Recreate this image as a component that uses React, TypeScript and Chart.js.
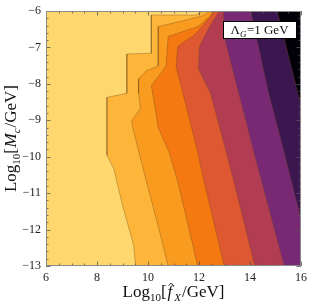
import React, { useEffect, useRef } from 'react';
import { Chart, registerables } from 'chart.js';

Chart.register(...registerables);

// Axis ranges and ticks (log10 values)
const xRange = [6, 16];
const yRange = [-13, -6];
const xTicks = [6, 8, 10, 12, 14, 16];
const yTicks = [-6, -7, -8, -9, -10, -11, -12, -13];
const xMinorStep = 0.5;
const yMinorStep = 0.2;

// Colour of lowest contour level (background) and of each higher level
const baseColor = '#FED86E';
const bandColors = ['#FDB639', '#F99B1E', '#F57911', '#DE5931', '#B23D53', '#792973', '#3C164F', '#020107'];

// Contour boundaries [log10 fX, log10 Mc], top to bottom
const b1 = [[12.18, -6], [11.87, -6.11], [10.13, -6.11], [10.13, -7.16], [9.17, -7.18], [9.17, -8.26], [8.39, -8.37], [8.39, -9.96], [8.66, -10.33], [8.78, -10.69], [9.01, -11.36], [9.44, -12.44], [9.51, -13]];
const b2 = [[12.45, -6], [12.14, -6.13], [11.37, -6.27], [10.4, -6.43], [10.4, -7.51], [9.94, -7.64], [9.63, -7.86], [9.63, -8.26], [9.71, -8.67], [9.36, -9.02], [9.4, -9.2], [9.94, -10.69], [10.4, -11.9], [10.79, -13]];
const b3 = [[12.56, -6], [12.41, -6.16], [11.95, -6.43], [10.79, -6.7], [10.71, -7.51], [10.13, -8.05], [10.25, -8.53], [10.4, -9.2], [10.83, -9.88], [11.17, -10.69], [11.95, -13]];
const b4 = [[12.64, -6], [12.45, -6.16], [11.83, -6.65], [11.17, -6.97], [11.1, -7.53], [11.37, -8.26], [11.95, -9.88], [12.18, -10.63], [12.99, -13]];
const b5 = [[12.8, -6], [12.41, -6.43], [12.02, -6.97], [11.98, -7.59], [12.45, -8.26], [13.07, -9.88], [13.37, -10.69], [14.19, -13]];
const b6 = [[12.95, -6], [13.03, -6.81], [14.15, -9.88], [15.34, -13]];
const b7 = [[14.03, -6], [14.73, -8.26], [15.34, -9.88], [15.61, -10.63], [16.46, -13]];
const b8 = [[15.07, -6], [15.88, -8.26], [16.3, -9.4]];
const boundaries = [b1, b2, b3, b4, b5, b6, b7, b8];

const SERIF = "'Liberation Serif', 'DejaVu Serif', serif";

type Run = { t: string; size: number; italic?: boolean; dy?: number; hat?: boolean; gap?: number };

function runsWidth(ctx: CanvasRenderingContext2D, runs: Run[]) {
  let w = 0;
  for (const r of runs) {
    ctx.font = `${r.italic ? 'italic ' : ''}${r.size}px ${SERIF}`;
    w += ctx.measureText(r.t).width + (r.gap || 0);
  }
  return w;
}

function drawRuns(ctx: CanvasRenderingContext2D, runs: Run[], x: number, y: number) {
  let cx = x;
  for (const r of runs) {
    ctx.font = `${r.italic ? 'italic ' : ''}${r.size}px ${SERIF}`;
    ctx.fillText(r.t, cx, y + (r.dy || 0));
    const w = ctx.measureText(r.t).width;
    if (r.hat) {
      const hx = cx + w * 0.75;
      const hy = y - r.size * 0.78;
      ctx.save();
      ctx.strokeStyle = ctx.fillStyle as string;
      ctx.lineWidth = 0.9;
      ctx.beginPath();
      ctx.moveTo(hx - 2.6, hy + 1.8);
      ctx.lineTo(hx, hy - 0.6);
      ctx.lineTo(hx + 2.6, hy + 1.8);
      ctx.stroke();
      ctx.restore();
    }
    cx += w + (r.gap || 0);
  }
}

const xTitle: Run[] = [
  { t: 'Log', size: 17 },
  { t: '10', size: 11, dy: 4 },
  { t: '[', size: 17, gap: 1 },
  { t: 'f', size: 17, italic: true, hat: true, gap: 2 },
  { t: 'X', size: 11, italic: true, dy: 4, gap: 1 },
  { t: '/GeV]', size: 17 },
];
const yTitle: Run[] = [
  { t: 'Log', size: 17 },
  { t: '10', size: 11, dy: 4 },
  { t: '[', size: 17, gap: 0.5 },
  { t: 'M', size: 17, italic: true },
  { t: 'c', size: 11, italic: true, dy: 4, gap: 1 },
  { t: '/GeV]', size: 17 },
];
const legendRuns: Run[] = [
  { t: '\u039B', size: 13 },
  { t: 'G', size: 9, italic: true, dy: 3, gap: 0.5 },
  { t: '=1 GeV', size: 13 },
];

const decorPlugin = {
  id: 'decor',
  beforeDatasetsDraw(chart: any) {
    const { ctx, chartArea: a } = chart;
    ctx.save();
    ctx.fillStyle = baseColor;
    ctx.fillRect(a.left, a.top, a.right - a.left, a.bottom - a.top);
    ctx.restore();
  },
  afterDatasetsDraw(chart: any) {
    const { ctx, chartArea: a } = chart;
    const xs = chart.scales.x;
    const ys = chart.scales.y;
    ctx.save();
    // ticks (inward, on all four sides)
    ctx.strokeStyle = '#555';
    ctx.lineWidth = 0.8;
    ctx.beginPath();
    for (let v = xRange[0]; v <= xRange[1] + 1e-9; v += xMinorStep) {
      const major = xTicks.some((t) => Math.abs(t - v) < 1e-6);
      const L = major ? 4.5 : 2.5;
      const px = Math.round(xs.getPixelForValue(v)) + 0.5;
      ctx.moveTo(px, a.bottom); ctx.lineTo(px, a.bottom - L);
      ctx.moveTo(px, a.top); ctx.lineTo(px, a.top + L);
    }
    for (let v = yRange[0]; v <= yRange[1] + 1e-9; v += yMinorStep) {
      const major = yTicks.some((t) => Math.abs(t - v) < 1e-6);
      const L = major ? 4.5 : 2.5;
      const py = Math.round(ys.getPixelForValue(v)) + 0.5;
      ctx.moveTo(a.left, py); ctx.lineTo(a.left + L, py);
      ctx.moveTo(a.right, py); ctx.lineTo(a.right - L, py);
    }
    ctx.stroke();
    // frame
    ctx.strokeStyle = '#8a8a8a';
    ctx.lineWidth = 1;
    ctx.strokeRect(a.left + 0.5, a.top + 0.5, a.right - a.left - 1, a.bottom - a.top - 1);
    // legend box
    const bx = Math.round(a.right - 78), by = Math.round(a.top + 10), bw = 73, bh = 17;
    ctx.fillStyle = '#fff';
    ctx.fillRect(bx, by, bw, bh);
    ctx.strokeStyle = '#000';
    ctx.lineWidth = 1;
    ctx.strokeRect(bx + 0.5, by + 0.5, bw, bh);
    ctx.fillStyle = '#111';
    ctx.textBaseline = 'alphabetic';
    const lw = runsWidth(ctx, legendRuns);
    drawRuns(ctx, legendRuns, bx + (bw - lw) / 2, by + 13);
    // axis titles
    const xw = runsWidth(ctx, xTitle);
    drawRuns(ctx, xTitle, (a.left + a.right) / 2 - xw / 2, 297);
    const yw = runsWidth(ctx, yTitle);
    ctx.translate(16, (a.top + a.bottom) / 2);
    ctx.rotate(-Math.PI / 2);
    drawRuns(ctx, yTitle, -yw / 2, 0);
    ctx.restore();
  },
};

export default function App() {
  const ref = useRef<HTMLCanvasElement | null>(null);
  useEffect(() => {
    if (!ref.current) return;
    const toPts = (b: number[][]) => b.map(([x, y]) => ({ x, y }));
    const far = xRange[1] + 1;
    const fills = boundaries.map((b, i) => ({
      type: 'scatter' as const,
      data: [...toPts(b), { x: far, y: b[b.length - 1][1] }, { x: far, y: b[0][1] }],
      showLine: true,
      fill: 'shape',
      backgroundColor: bandColors[i],
      borderWidth: 0,
      borderColor: 'rgba(0,0,0,0)',
      pointRadius: 0,
      tension: 0,
      order: 100 - i,
    }));
    const lines = boundaries.map((b) => ({
      type: 'scatter' as const,
      data: toPts(b),
      showLine: true,
      fill: false,
      borderColor: 'rgba(110,70,30,0.45)',
      borderWidth: 0.8,
      pointRadius: 0,
      tension: 0,
      order: 1,
    }));
    const chart = new Chart(ref.current, {
      type: 'scatter',
      data: { datasets: [...fills, ...lines] as any },
      options: {
        responsive: false,
        animation: false,
        events: [],
        layout: { padding: { left: 0, right: 7, top: 6, bottom: 0 } },
        plugins: { legend: { display: false }, tooltip: { enabled: false } },
        scales: {
          x: {
            type: 'linear',
            min: xRange[0],
            max: xRange[1],
            grid: { display: false, drawTicks: false },
            border: { display: false },
            afterBuildTicks: (s: any) => { s.ticks = xTicks.map((v) => ({ value: v })); },
            afterFit: (s: any) => { s.height = 41; },
            ticks: {
              autoSkip: false,
              maxRotation: 0,
              padding: 5,
              color: '#222',
              font: { family: SERIF, size: 12 },
            },
          },
          y: {
            type: 'linear',
            min: yRange[0],
            max: yRange[1],
            grid: { display: false, drawTicks: false },
            border: { display: false },
            afterBuildTicks: (s: any) => { s.ticks = yTicks.map((v) => ({ value: v })); },
            afterFit: (s: any) => { s.width = 46; },
            ticks: {
              autoSkip: false,
              padding: 5,
              color: '#222',
              font: { family: SERIF, size: 12, lineHeight: 1 },
              callback: (v: any) => (Number(v) < 0 ? '\u2212' + Math.abs(Number(v)) : String(v)),
            },
          },
        },
      },
      plugins: [decorPlugin],
    });
    return () => chart.destroy();
  }, []);
  return (
    <div style={{ position: 'fixed', left: 0, top: 0, width: 312, height: 307, background: '#fff' }}>
      <canvas ref={ref} width={312} height={307} style={{ width: 312, height: 307 }} />
    </div>
  );
}
